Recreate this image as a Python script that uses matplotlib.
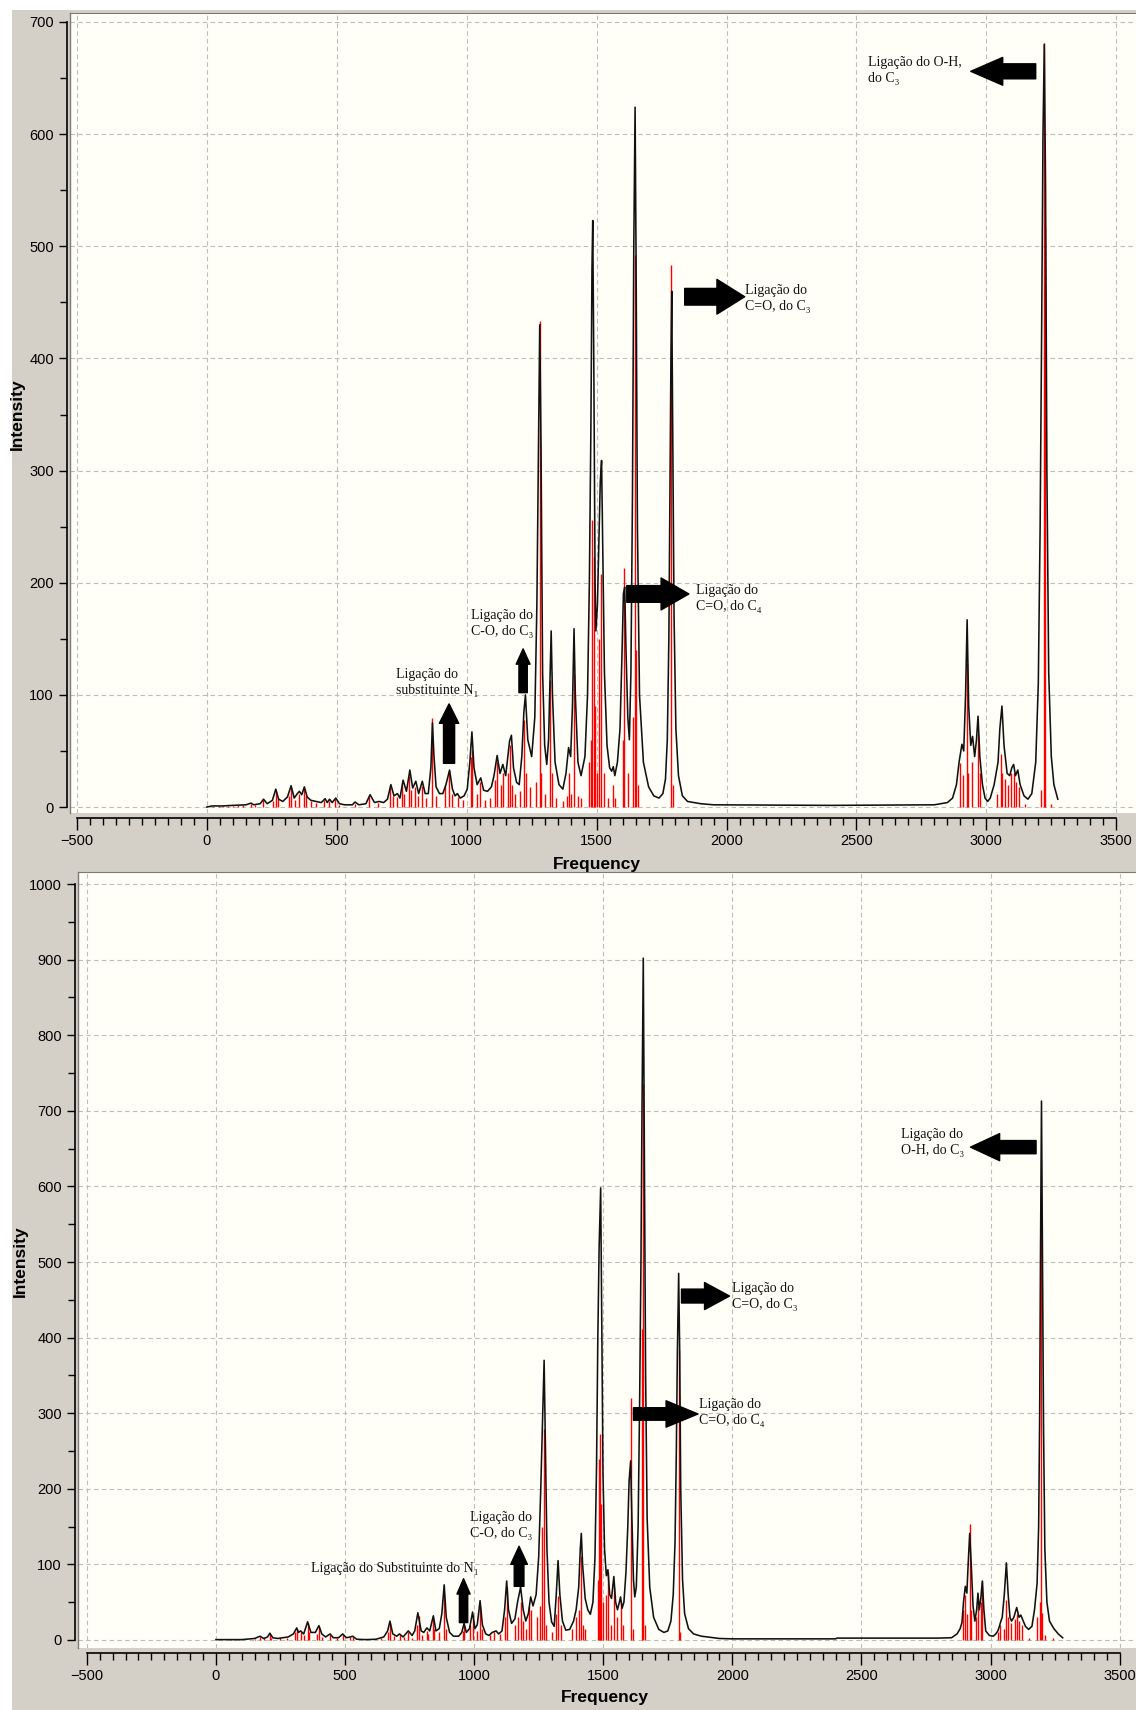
import matplotlib
matplotlib.use("Agg")
import matplotlib.pyplot as plt
from matplotlib.patches import Rectangle
from matplotlib.ticker import MultipleLocator

# ---- top spectrum: stick intensities (freq, intensity) ----
top_sticks = [
    (25, 1), (45, 1), (60, 1), (80, 1), (100, 1), (120, 1.5), (140, 1.5), (170, 3), (185, 2),
    (215, 6), (255, 5), (265, 14), (275, 8), (315, 10), (325, 17), (340, 6), (355, 12),
    (372, 16), (380, 10), (400, 5), (420, 4), (450, 6), (470, 5), (492, 7), (510, 2), (570, 3),
    (625, 9), (660, 4), (705, 17), (715, 10), (730, 9), (752, 21), (760, 12), (778, 28),
    (785, 15), (800, 18), (812, 10), (826, 19), (845, 8), (868, 79), (880, 10), (915, 20),
    (930, 32), (945, 12), (965, 9), (985, 6), (1015, 45), (1020, 51), (1040, 12), (1052, 22),
    (1070, 6), (1090, 8), (1110, 24), (1118, 40), (1130, 20), (1140, 30), (1158, 30),
    (1168, 55), (1175, 20), (1185, 12), (1205, 14), (1222, 78), (1230, 30), (1245, 18),
    (1265, 22), (1282, 433), (1287, 30), (1300, 12), (1322, 113), (1330, 30), (1345, 8),
    (1370, 5), (1385, 10), (1392, 30), (1400, 12), (1412, 119), (1430, 10), (1440, 8),
    (1470, 40), (1478, 60), (1483, 256), (1488, 223), (1492, 90), (1500, 30), (1510, 150),
    (1518, 208), (1530, 30), (1545, 8), (1563, 20), (1570, 8), (1600, 60), (1607, 213),
    (1620, 30), (1640, 80), (1646, 492), (1652, 140), (1660, 20), (1788, 483), (1793, 20),
    (2900, 39), (2910, 29), (2925, 128), (2930, 30), (2945, 40), (2966, 65), (2975, 30),
    (3040, 12), (3055, 47), (3060, 30), (3070, 25), (3085, 20), (3095, 30), (3105, 30),
    (3115, 22), (3125, 18), (3150, 3), (3210, 15), (3222, 681), (3225, 517), (3250, 3),
]

# ---- top spectrum: broadened curve ----
top_curve = [
    (0, 0), (20, 1), (60, 1), (100, 1.5), (150, 2), (170, 3.5), (180, 2), (205, 3), (218, 7),
    (232, 3), (252, 6), (265, 16), (276, 7), (292, 5), (310, 9), (324, 19), (336, 8), (348, 12),
    (356, 14), (365, 11), (375, 18), (386, 9), (400, 6), (420, 5), (440, 4), (455, 7.5),
    (463, 4), (472, 7), (482, 4), (496, 8), (510, 3), (530, 2), (560, 2), (570, 4.5), (585, 2),
    (612, 3), (628, 11), (645, 4), (663, 5), (680, 4), (695, 7), (708, 20), (720, 10),
    (733, 12), (743, 8), (755, 24), (768, 14), (781, 33), (792, 17), (804, 23), (815, 12),
    (829, 23), (840, 12), (852, 12), (862, 35), (868, 75), (874, 45), (882, 18), (895, 12),
    (908, 12), (920, 20), (934, 33), (945, 16), (955, 10), (964, 12), (975, 8), (990, 10),
    (1002, 16), (1012, 40), (1020, 67), (1028, 35), (1040, 20), (1054, 26), (1065, 15),
    (1080, 14), (1095, 18), (1105, 28), (1117, 46), (1128, 30), (1139, 38), (1150, 28),
    (1165, 59), (1172, 64), (1180, 35), (1192, 22), (1202, 20), (1212, 45), (1220, 85),
    (1226, 100), (1235, 60), (1250, 45), (1262, 80), (1270, 180), (1276, 320), (1281, 430),
    (1286, 320), (1292, 120), (1300, 55), (1308, 38), (1315, 60), (1320, 110), (1325, 157),
    (1330, 100), (1340, 40), (1355, 20), (1370, 16), (1382, 30), (1392, 53), (1400, 45),
    (1407, 90), (1413, 159), (1418, 100), (1428, 40), (1440, 28), (1455, 45), (1465, 100),
    (1472, 200), (1478, 340), (1482, 480), (1485, 523), (1489, 400), (1494, 200), (1497, 157),
    (1503, 180), (1510, 250), (1514, 290), (1519, 309), (1524, 220), (1530, 120), (1540, 55),
    (1550, 35), (1558, 32), (1564, 36), (1570, 28), (1580, 40), (1590, 70), (1598, 140),
    (1603, 190), (1608, 196), (1613, 140), (1620, 80), (1626, 60), (1632, 120), (1638, 280),
    (1643, 500), (1648, 624), (1652, 480), (1657, 250), (1665, 100), (1680, 40), (1700, 18),
    (1720, 10), (1740, 8), (1755, 12), (1765, 25), (1772, 60), (1778, 150), (1783, 300),
    (1786, 400), (1789, 460), (1793, 330), (1798, 170), (1805, 70), (1815, 28), (1830, 10),
    (1850, 5), (1900, 3), (1950, 2), (2400, 1.5), (2800, 2), (2850, 4), (2870, 8), (2885, 20),
    (2895, 40), (2906, 56), (2913, 50), (2920, 100), (2926, 167), (2932, 90), (2940, 55),
    (2947, 63), (2955, 45), (2962, 60), (2968, 81), (2975, 45), (2985, 20), (2995, 8),
    (3005, 5), (3015, 8), (3030, 20), (3045, 40), (3052, 70), (3060, 90), (3068, 55),
    (3080, 30), (3090, 28), (3098, 35), (3105, 38), (3112, 28), (3121, 33), (3130, 20),
    (3145, 10), (3160, 7), (3175, 12), (3190, 40), (3200, 110), (3207, 250), (3213, 430),
    (3218, 600), (3223, 680), (3228, 550), (3233, 300), (3240, 120), (3250, 45), (3260, 20),
    (3275, 7),
]

# ---- bottom spectrum: sticks ----
bot_sticks = [
    (60, 1), (90, 1), (150, 1), (171, 4), (185, 2), (209, 8), (215, 3), (250, 2), (275, 2),
    (305, 10), (313, 14), (328, 10), (340, 6), (355, 22), (362, 10), (390, 8), (399, 17),
    (410, 4), (440, 6), (470, 3), (491, 6), (520, 4), (530, 4), (640, 2), (665, 10), (674, 22),
    (690, 5), (711, 6), (730, 4), (745, 10), (760, 3), (780, 20), (785, 32), (800, 6),
    (817, 12), (822, 8), (840, 28), (845, 15), (865, 10), (884, 59), (890, 15), (955, 12),
    (960, 18), (985, 20), (994, 33), (1010, 12), (1023, 45), (1030, 15), (1060, 6), (1075, 10),
    (1100, 8), (1118, 30), (1126, 70), (1160, 20), (1170, 30), (1180, 50), (1188, 25),
    (1200, 15), (1212, 45), (1220, 40), (1245, 30), (1255, 45), (1262, 150), (1271, 279),
    (1280, 20), (1300, 10), (1318, 35), (1325, 58), (1335, 20), (1380, 15), (1395, 30),
    (1405, 40), (1412, 111), (1420, 20), (1428, 15), (1478, 80), (1485, 240), (1489, 273),
    (1493, 180), (1500, 50), (1512, 60), (1518, 90), (1530, 20), (1541, 70), (1555, 30),
    (1567, 50), (1575, 20), (1606, 320), (1615, 15), (1650, 412), (1655, 735), (1662, 20),
    (1792, 384), (1798, 10), (2895, 40), (2902, 60), (2910, 35), (2919, 153), (2925, 40),
    (2945, 30), (2951, 45), (2962, 50), (2968, 78), (3030, 10), (3038, 20), (3050, 15),
    (3061, 53), (3068, 30), (3080, 22), (3095, 28), (3101, 35), (3110, 25), (3120, 20),
    (3150, 3), (3180, 30), (3190, 50), (3196, 585), (3199, 36), (3210, 7), (3240, 3),
]

# ---- bottom spectrum: broadened curve ----
bot_curve = [
    (0, 0.5), (100, 0.5), (150, 2), (171, 5), (185, 2), (200, 4), (209, 9), (220, 3), (240, 2),
    (260, 3), (280, 4), (300, 8), (313, 16), (320, 10), (328, 12), (340, 8), (355, 24),
    (368, 10), (385, 10), (399, 19), (410, 8), (425, 4), (442, 8), (455, 3), (475, 3),
    (491, 8), (505, 3), (520, 4), (530, 5), (545, 1), (580, 0.5), (620, 1), (650, 4), (665, 12),
    (674, 25), (685, 8), (700, 5), (711, 8), (725, 4), (745, 12), (760, 6), (770, 12), (782, 36),
    (795, 12), (805, 10), (817, 16), (828, 12), (842, 32), (852, 12), (865, 15), (875, 35),
    (884, 73), (892, 30), (905, 10), (920, 5), (940, 5), (952, 10), (961, 22), (970, 10),
    (982, 15), (994, 37), (1003, 15), (1012, 20), (1023, 52), (1032, 20), (1045, 8), (1058, 6),
    (1070, 10), (1085, 12), (1095, 8), (1108, 12), (1118, 40), (1126, 78), (1133, 40),
    (1145, 22), (1158, 28), (1168, 50), (1180, 70), (1190, 40), (1200, 25), (1210, 35),
    (1219, 57), (1228, 45), (1240, 60), (1250, 110), (1258, 200), (1265, 290), (1271, 370),
    (1276, 260), (1282, 120), (1290, 50), (1300, 24), (1310, 18), (1318, 60), (1325, 105),
    (1332, 60), (1342, 25), (1355, 13), (1370, 14), (1385, 25), (1395, 40), (1405, 70),
    (1411, 120), (1415, 141), (1420, 100), (1430, 55), (1440, 40), (1450, 34), (1460, 50),
    (1468, 110), (1474, 230), (1479, 400), (1484, 520), (1490, 598), (1494, 430), (1499, 220),
    (1505, 120), (1512, 85), (1518, 93), (1525, 60), (1532, 55), (1541, 84), (1548, 50),
    (1555, 40), (1561, 48), (1567, 57), (1573, 42), (1580, 50), (1588, 90), (1595, 150),
    (1600, 210), (1606, 237), (1611, 160), (1617, 80), (1622, 57), (1628, 70), (1635, 150),
    (1641, 320), (1646, 500), (1650, 700), (1655, 902), (1659, 650), (1664, 350), (1670, 160),
    (1680, 70), (1695, 30), (1715, 14), (1735, 10), (1750, 12), (1762, 25), (1771, 60),
    (1778, 130), (1783, 250), (1787, 380), (1792, 485), (1796, 380), (1800, 200), (1807, 80),
    (1815, 35), (1830, 15), (1850, 8), (1880, 5), (1950, 2), (2000, 1.5), (2400, 1.5),
    (2405, 2.5), (2800, 2.5), (2849, 3), (2870, 8), (2882, 15), (2889, 23), (2895, 50),
    (2902, 71), (2908, 62), (2913, 100), (2919, 141), (2925, 100), (2932, 45), (2939, 25),
    (2946, 40), (2951, 62), (2956, 40), (2962, 55), (2968, 78), (2974, 40), (2981, 12),
    (2995, 6), (3010, 5), (3020, 8), (3028, 12), (3034, 18), (3038, 23), (3045, 30), (3053, 60),
    (3061, 102), (3068, 60), (3075, 30), (3081, 25), (3090, 30), (3101, 43), (3110, 30),
    (3117, 33), (3124, 27), (3135, 18), (3147, 14), (3160, 18), (3170, 40), (3180, 75),
    (3186, 150), (3190, 300), (3193, 500), (3197, 713), (3201, 500), (3205, 280), (3210, 120),
    (3218, 50), (3228, 25), (3245, 15), (3262, 8), (3279, 3),
]

# annotations: (x, y, text)
top_notes = [
    (2544, 657, "Ligação do O-H,\ndo C₃"),
    (2070, 453, "Ligação do\nC=O, do C₃"),
    (1881, 186, "Ligação do\nC=O, do C₄"),
    (1016, 164, "Ligação do\nC-O, do C₃"),
    (726, 111, "Ligação do\nsubstituinte N₁"),
]
bot_notes = [
    (2652, 658, "Ligação do\nO-H, do C₃"),
    (1997, 454, "Ligação do\nC=O, do C₃"),
    (1871, 301, "Ligação do\nC=O, do C₄"),
    (984, 151, "Ligação do\nC-O, do C₃"),
    (367, 95, "Ligação do Substituinte do N₁"),
]
# arrows: (tail, tip, tail width, head width, head length) sizes in pt
top_arrows = [
    ((3190, 656), (2940, 656), 10.8, 20, 23),
    ((1839, 455), (2070, 455), 12, 25, 20),
    ((1616, 190), (1855, 190), 12, 23, 20),
    ((1217, 102), (1217, 141), 6, 10, 11),
    ((932, 39), (932, 92), 8, 14, 14),
]
bot_arrows = [
    ((3176, 652), (2922, 652), 9.5, 19.5, 21),
    ((1803, 455), (1989, 455), 10, 19.5, 18),
    ((1617, 299), (1867, 299), 9, 19, 23),
    ((1174, 71), (1174, 124), 7, 12, 13),
    ((959, 23), (959, 81), 6, 9.5, 11),
]

W, H = 1136, 1710
BG = "#d4d0c8"
serif = ["Liberation Serif", "DejaVu Serif"]


def draw_panel(ax, sticks, curve, notes, arrows, xlim, ylim, ymax):
    ax.set_facecolor("#fffff8")
    sf = [s[0] for s in sticks]
    si = [s[1] for s in sticks]
    ax.vlines(sf, 0, si, color="#ff0000", lw=1.0, zorder=2)
    cf = [c[0] for c in curve]
    ci = [c[1] for c in curve]
    ax.plot(cf, ci, color="#111111", lw=1.15, zorder=3)

    ax.set_xlim(*xlim)
    ax.set_ylim(*ylim)
    ax.xaxis.set_major_locator(MultipleLocator(500))
    ax.xaxis.set_minor_locator(MultipleLocator(50))
    ax.yaxis.set_major_locator(MultipleLocator(100))
    ax.yaxis.set_minor_locator(MultipleLocator(50))
    ax.set_xticks(range(-500, 3501, 500))
    ax.set_yticks(range(0, ymax + 1, 100))

    ax.spines["right"].set_visible(False)
    ax.spines["top"].set_color("#7a7a7a")
    ax.spines["left"].set_position(("outward", 2.2))
    ax.spines["bottom"].set_position(("outward", 3.6))
    ax.spines["left"].set_bounds(0, ymax)
    ax.spines["bottom"].set_bounds(-500, 3500)
    ax.spines["left"].set_linewidth(1.2)
    ax.spines["bottom"].set_linewidth(1.2)
    ax.plot([0, 0], [0, 1], transform=ax.transAxes, color="#7a7a7a", lw=1, clip_on=False)

    ax.tick_params(axis="x", which="major", length=8.5, width=1, pad=3, labelsize=10.5)
    ax.tick_params(axis="x", which="minor", length=5, width=1)
    ax.tick_params(axis="y", which="major", length=6, width=1, pad=3.5, labelsize=10.5)
    ax.tick_params(axis="y", which="minor", length=5, width=1)
    # minor ticks outside the spine bounds are not wanted
    for t, v in zip(ax.xaxis.get_minor_ticks(), ax.xaxis.get_minorticklocs()):
        if v < -500 or v > 3500:
            t.set_visible(False)
    for lab in ax.get_xticklabels() + ax.get_yticklabels():
        lab.set_family(["Liberation Sans", "DejaVu Sans"])

    ax.grid(True, which="major", color="#bcbcbc", lw=0.8, ls=(0, (4, 3)))
    ax.set_axisbelow(True)

    for x, y, txt in notes:
        ax.text(x, y, txt, ha="left", va="center", fontsize=10, family=serif,
                linespacing=1.3, zorder=5, color="#111111")
    for tail, tip, tw, hw, hl in arrows:
        ax.annotate("", xy=tip, xytext=tail,
                    arrowprops=dict(arrowstyle=f"simple,head_length={hl},head_width={hw},tail_width={tw}",
                                    color="black", shrinkA=0, shrinkB=0, mutation_scale=1),
                    zorder=6)


fig = plt.figure(figsize=(W / 100, H / 100), dpi=100, facecolor="white")
fig.patches.append(Rectangle((12 / W, 0), 1 - 12 / W, 1 - 10 / H, transform=fig.transFigure,
                             facecolor=BG, edgecolor="none", zorder=-10))

# top panel: plot box from x=70..1136 px, y=13..813 px
ax1 = fig.add_axes([70 / W, 1 - 813 / H, 1066 / W, 800 / H])
draw_panel(ax1, top_sticks, top_curve, top_notes, top_arrows, (-527, 3576), (-5.3, 708), 700)
ax1.set_zorder(1)

# bottom panel: plot box from x=78..1136 px, y=872..1648 px
ax2 = fig.add_axes([78 / W, 1 - 1648 / H, 1058 / W, 776 / H])
draw_panel(ax2, bot_sticks, bot_curve, bot_notes, bot_arrows, (-534, 3563), (-10.6, 1016), 1000)
ax2.set_zorder(5)

lab_font = dict(fontsize=12.5, fontweight="bold", family=["Liberation Sans", "DejaVu Sans"])
# the top label is partly hidden behind the lower window, as in the screenshot
fig.text(597 / W, 1 - 869 / H, "Frequency", ha="center", va="baseline", zorder=2, **lab_font)
fig.text(605 / W, 1 - 1697 / H, "Frequency", ha="center", va="center", zorder=6, **lab_font)
fig.text(17 / W, 1 - 414 / H, "Intensity", ha="center", va="center", rotation=90, zorder=2, **lab_font)
fig.text(20 / W, 1 - 1261 / H, "Intensity", ha="center", va="center", rotation=90, zorder=6, **lab_font)

fig.savefig("out.png", dpi=100, facecolor=fig.get_facecolor())
